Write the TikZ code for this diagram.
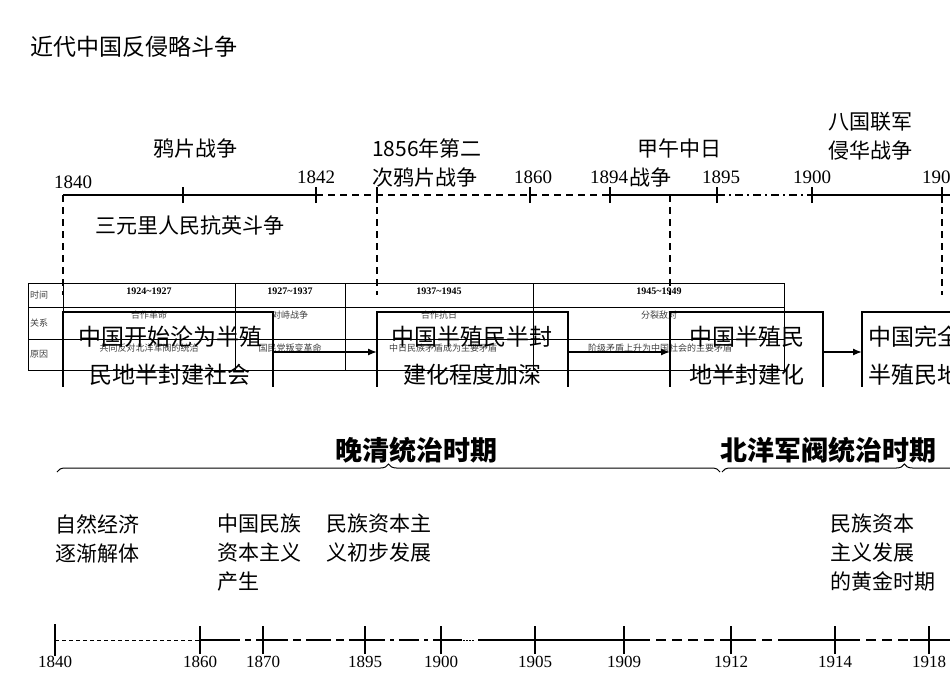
\documentclass[tikz,border=0pt]{standalone}
\usepackage{fontspec}
\setmainfont{Liberation Serif}
\newfontfamily\cjk{Noto Sans CJK SC}
\usetikzlibrary{arrows.meta,decorations.pathreplacing}
\tikzset{
 zh/.style={font=\cjk\fontsize{21}{29}\selectfont,inner sep=0pt},
 yr/.style={font=\fontsize{19}{22}\selectfont,inner sep=0pt},
 big/.style={font=\cjk\fontsize{23}{38}\selectfont,inner sep=0pt,align=center},
 tab/.style={font=\cjk\fontsize{9}{10}\selectfont,inner sep=0pt,text=black!75},
 tabb/.style={font=\bfseries\fontsize{10}{11}\selectfont,inner sep=0pt},
 axis/.style={line width=1.6pt},
 vd/.style={line width=1.4pt,dash pattern=on 7pt off 5pt},
 bx/.style={draw,line width=1.6pt},
 arr/.style={line width=1.4pt,-{Latex[length=9pt,width=7pt]}},
 tk/.style={line width=1.2pt}
}
\begin{document}
\begin{tikzpicture}[x=1pt,y=-1pt]
\useasboundingbox (0,0) rectangle (950,672);
\node[zh,anchor=west,font=\cjk\fontsize{23}{26}\selectfont] (title) at (30,47) {近代中国反侵略斗争};
% top timeline
\coordinate (t0) at (63,195); \coordinate (t1) at (183,195); \coordinate (t2) at (316,195);
\coordinate (t3) at (377,195); \coordinate (t4) at (530,195); \coordinate (t5) at (610,195);
\coordinate (t6) at (670,195); \coordinate (t7) at (717,195); \coordinate (t8) at (812,195);
\coordinate (t9) at (942,195); \coordinate (tend) at (950,195);
\draw[axis] (t0)--(t2);
\draw[axis,dash pattern=on 7pt off 5pt] (t2)--(t4);
\draw[axis,dash pattern=on 7pt off 5pt] (t4)--(t5);
\draw[axis] (t5)--(t7);
\draw[axis,dash pattern=on 8pt off 4pt on 2pt off 4pt] (t7)--(t8);
\draw[axis] (t8)--(tend);
\foreach \c in {t1,t2,t3,t4,t5,t7,t8,t9} \draw[tk] ([yshift=-8pt]\c)--([yshift=8pt]\c);
\node[yr] at (73,182) {1840};
\node[zh] (yp) at (195,148) {鸦片战争};
\node[yr] at (316,177) {1842};
\node[zh,align=left,anchor=west] at (372,163) {1856年第二\\次鸦片战争};
\node[yr] at (533,177) {1860};
\node[yr] at (609,177) {1894};
\node[zh,align=left] at (675,163) {\hspace*{8pt}甲午中日\\战争};
\node[yr] at (721,177) {1895};
\node[yr] at (812,177) {1900};
\node[yr,anchor=west] at (922,177) {1905};
\node[zh,align=left,anchor=west] at (828,136) {八国联军\\侵华战争};
\node[zh,anchor=west] (syl) at (95,225) {三元里人民抗英斗争};
\begin{scope}
\clip (0,0) rectangle (950,386);
\foreach \c in {t0,t3,t6,t9} \draw[vd] (\c)--([yshift=-100pt]\c);
% table
\draw[line width=0.8pt] (28,283) rectangle (784,370);
\draw[line width=0.8pt] (28,307)--(784,307) (28,339)--(784,339);
\foreach \xx in {63,235,345,533} \draw[line width=0.8pt] (\xx,283)--(\xx,370);
\node[tab,anchor=west] at (30,295) {时间};
\node[tab,anchor=west] at (30,323) {关系};
\node[tab,anchor=west] at (30,354) {原因};
\node[tabb] at (149,291) {1924\textasciitilde1927};
\node[tabb] at (290,291) {1927\textasciitilde1937};
\node[tabb] at (439,291) {1937\textasciitilde1945};
\node[tabb] at (659,291) {1945\textasciitilde1949};
\node[tab] at (149,315) {合作革命};
\node[tab] at (290,315) {对峙战争};
\node[tab] at (439,315) {合作抗日};
\node[tab] at (659,315) {分裂敌对};
\node[tab] at (149,348) {共同反对北洋军阀的统治};
\node[tab] at (290,348) {国民党叛变革命};
\node[tab] at (443,348) {中日民族矛盾成为主要矛盾};
\node[tab] at (660,348) {阶级矛盾上升为中国社会的主要矛盾};
% boxes
\draw[bx] (63,312) rectangle (273,400); \coordinate (b1) at (273,352);
\draw[bx] (377,312) rectangle (568,400); \coordinate (b2l) at (377,352); \coordinate (b2r) at (568,352);
\draw[bx] (670,312) rectangle (823,400); \coordinate (b3l) at (670,352); \coordinate (b3r) at (823,352);
\draw[bx] (862,312) rectangle (1000,400); \coordinate (b4l) at (862,352);
\node[big] (n1) at (170,356) {中国开始沦为半殖\\民地半封建社会};
\node[big] (n2) at (472,356) {中国半殖民半封\\建化程度加深};
\node[big] (n3) at (747,356) {中国半殖民\\地半封建化};
\node[big,align=left,anchor=west] (n4) at (868,356) {中国完全沦为\\半殖民地};
\draw[arr] (b1)--(b2l);
\draw[arr] (b2r)--(b3l);
\draw[arr] (b3r)--(b4l);
\end{scope}
% bottom
\node[zh,font=\cjk\bfseries\fontsize{27}{30}\selectfont] (wq) at (416,450) {晚清统治时期};
\node[zh,font=\cjk\bfseries\fontsize{27}{30}\selectfont,anchor=west] (by) at (720,450) {北洋军阀统治时期};
\draw[line width=1pt,decorate,decoration={brace,amplitude=8pt}] (57,472)--(720,472);
\draw[line width=1pt,decorate,decoration={brace,amplitude=8pt,aspect=0.3}] (722,472)--(1330,472);
\node[zh,align=left,anchor=north west] at (55,514) {自然经济\\逐渐解体};
\node[zh,align=left,anchor=north west] at (217,514) {中国民族\\资本主义\\产生};
\node[zh,align=left,anchor=north west] at (326,514) {民族资本主\\义初步发展};
\node[zh,align=left,anchor=north west] at (830,514) {民族资本\\主义发展\\的黄金时期};
\coordinate (b0) at (55,640); \coordinate (b1x) at (200,640); \coordinate (b2x) at (263,640);
\coordinate (b3x) at (365,640); \coordinate (b4x) at (441,640); \coordinate (b5x) at (535,640);
\coordinate (b6x) at (624,640); \coordinate (b7x) at (731,640); \coordinate (b8x) at (835,640);
\coordinate (b9x) at (929,640); \coordinate (bend) at (950,640);
\draw[line width=1pt,dash pattern=on 4pt off 3pt] (b0)--(b1x);
\draw[axis,dash pattern=on 40pt off 5pt on 6pt off 5pt] (b1x)--(b2x);
\draw[axis,dash pattern=on 25pt off 5pt on 8pt off 5pt] (b2x)--(b3x);
\draw[axis,dash pattern=on 20pt off 5pt on 4pt off 5pt] (b3x)--(b4x);
\draw[axis] (b4x)--(462,640);
\draw[line width=1pt,dash pattern=on 1.5pt off 1.5pt] (463,640)--(475,640);
\draw[axis] (478,640)--(640,640);
\draw[axis,dash pattern=on 10pt off 6pt] (640,640)--(b7x);
\draw[axis,dash pattern=on 25pt off 6pt on 10pt off 6pt] (b7x)--(785,640);
\draw[axis] (785,640)--(850,640);
\draw[axis,dash pattern=on 10pt off 6pt] (850,640)--(910,640);
\draw[axis] (910,640)--(bend);
\draw[tk] ([yshift=-16pt]b0)--([yshift=16pt]b0);
\foreach \c in {b1x,b2x,b3x,b4x,b5x,b6x,b7x,b8x,b9x} \draw[tk] ([yshift=-14pt]\c)--([yshift=14pt]\c);
\foreach \c/\t in {b0/1840,b1x/1860,b2x/1870,b3x/1895,b4x/1900,b5x/1905,b6x/1909,b7x/1912,b8x/1914,b9x/1918}
  \node[yr,font=\fontsize{17}{20}\selectfont] at ([yshift=-22pt]\c) {\t};
\end{tikzpicture}
\end{document}
